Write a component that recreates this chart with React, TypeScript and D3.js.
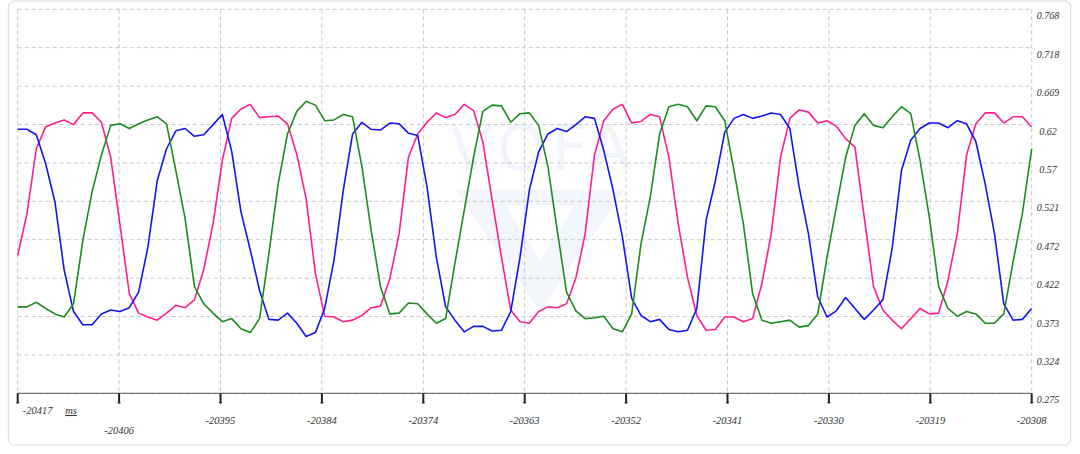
import React from 'react';
import * as d3 from 'd3';

// sampled channels, 1 ms apart, starting at t = -20417 ms
const startTime = -20417;
const endTime = -20308;

const pink = [
  0.452, 0.506, 0.589, 0.617, 0.622, 0.626, 0.620, 0.635, 0.635, 0.623,
  0.578, 0.491, 0.403, 0.378, 0.373, 0.369, 0.378, 0.388, 0.385, 0.395,
  0.434, 0.493, 0.574, 0.628, 0.640, 0.646, 0.629, 0.630, 0.631, 0.621,
  0.582, 0.525, 0.429, 0.374, 0.373, 0.367, 0.369, 0.375, 0.385, 0.387,
  0.422, 0.480, 0.578, 0.608, 0.623, 0.635, 0.629, 0.633, 0.646, 0.638,
  0.598, 0.523, 0.450, 0.382, 0.367, 0.365, 0.380, 0.386, 0.385, 0.390,
  0.423, 0.480, 0.581, 0.625, 0.640, 0.646, 0.622, 0.624, 0.633, 0.630,
  0.578, 0.493, 0.424, 0.375, 0.356, 0.357, 0.373, 0.373, 0.367, 0.371,
  0.416, 0.480, 0.578, 0.628, 0.639, 0.636, 0.622, 0.625, 0.618, 0.602,
  0.591, 0.501, 0.412, 0.382, 0.369, 0.358, 0.371, 0.384, 0.377, 0.378,
  0.420, 0.480, 0.581, 0.621, 0.635, 0.635, 0.622, 0.630, 0.630, 0.617,
];

const blue = [
  0.614, 0.614, 0.607, 0.570, 0.521, 0.433, 0.380, 0.363, 0.363, 0.377,
  0.382, 0.380, 0.385, 0.405, 0.463, 0.548, 0.589, 0.612, 0.615, 0.605,
  0.607, 0.620, 0.633, 0.586, 0.508, 0.459, 0.407, 0.370, 0.369, 0.378,
  0.365, 0.348, 0.353, 0.384, 0.446, 0.536, 0.608, 0.623, 0.614, 0.613,
  0.622, 0.621, 0.609, 0.606, 0.540, 0.450, 0.386, 0.369, 0.354, 0.361,
  0.361, 0.355, 0.356, 0.380, 0.450, 0.536, 0.585, 0.608, 0.615, 0.611,
  0.620, 0.630, 0.628, 0.587, 0.536, 0.476, 0.397, 0.375, 0.367, 0.370,
  0.357, 0.354, 0.356, 0.384, 0.497, 0.548, 0.610, 0.628, 0.633, 0.628,
  0.631, 0.635, 0.633, 0.615, 0.540, 0.480, 0.399, 0.373, 0.381, 0.398,
  0.384, 0.370, 0.382, 0.395, 0.461, 0.561, 0.600, 0.615, 0.622, 0.622,
  0.616, 0.625, 0.621, 0.598, 0.544, 0.480, 0.390, 0.369, 0.370, 0.384,
];

const green = [
  0.386, 0.386, 0.392, 0.384, 0.377, 0.373, 0.390, 0.471, 0.534, 0.581,
  0.619, 0.621, 0.615, 0.621, 0.626, 0.630, 0.621, 0.561, 0.499, 0.412,
  0.390, 0.378, 0.367, 0.371, 0.358, 0.353, 0.371, 0.454, 0.544, 0.608,
  0.637, 0.650, 0.645, 0.625, 0.626, 0.633, 0.630, 0.566, 0.484, 0.412,
  0.377, 0.378, 0.391, 0.390, 0.377, 0.365, 0.371, 0.442, 0.510, 0.578,
  0.637, 0.645, 0.644, 0.623, 0.634, 0.635, 0.619, 0.566, 0.484, 0.405,
  0.381, 0.371, 0.372, 0.374, 0.358, 0.354, 0.377, 0.467, 0.527, 0.608,
  0.643, 0.646, 0.643, 0.625, 0.644, 0.643, 0.625, 0.561, 0.493, 0.403,
  0.369, 0.365, 0.367, 0.369, 0.360, 0.362, 0.377, 0.450, 0.514, 0.578,
  0.619, 0.634, 0.619, 0.616, 0.630, 0.643, 0.634, 0.574, 0.501, 0.412,
  0.384, 0.374, 0.380, 0.377, 0.365, 0.365, 0.377, 0.444, 0.506, 0.589,
];

const yMin = 0.2751;
const yMax = 0.768;
const yTickLabels = ['0.275', '0.324', '0.373', '0.422', '0.472', '0.521', '0.57', '0.62', '0.669', '0.718', '0.768'];
const xTickLabels = ['-20417', '-20406', '-20395', '-20384', '-20374', '-20363', '-20352', '-20341', '-20330', '-20319', '-20308'];

const W = 1080;
const H = 454;
const left = 17.7;
const right = 1031.7;
const top = 9.3;
const bottom = 393.3;

const font = '"Liberation Serif", "DejaVu Serif", serif';

const App: React.FC = () => {
  const x = d3.scaleLinear().domain([startTime, endTime]).range([left, right]);
  const y = d3.scaleLinear().domain([yMin, yMax]).range([bottom, top]);

  const yTicks = yTickLabels.map((l, i) => ({ label: l, v: yMin + (i * (yMax - yMin)) / (yTickLabels.length - 1) }));
  const xTicks = xTickLabels.map((l, i) => ({
    label: l,
    t: startTime + (i * (endTime - startTime)) / (xTickLabels.length - 1),
  }));

  const line = d3
    .line<number>()
    .x((_, i) => x(startTime + i))
    .y((d) => y(d));

  const series = [
    { name: 'ch0', values: pink, color: '#ff1f8e' },
    { name: 'ch1', values: blue, color: '#1414f5' },
    { name: 'ch2', values: green, color: '#1c8c1c' },
  ];

  return (
    <svg width={W} height={H} style={{ position: 'absolute', left: 0, top: 0, background: '#fff' }}>
      <rect x={8.3} y={1} width={1062.4} height={444} rx={6} fill="#fff" stroke="#d9d9d9" />

      {/* faint watermark */}
      <g opacity={0.5}>
        <text x={543} y={170} textAnchor="middle" fontFamily="DejaVu Sans, sans-serif" fontSize={62} fill="#e4ecf8" letterSpacing={6}>
          VOFA
        </text>
        <path d="M455,190 L625,190 L540,310 Z M505,205 L575,205 L540,260 Z" fill="#e8effa" fillRule="evenodd" />
      </g>

      {/* grid */}
      {yTicks.map((t) => (
        <line key={'gy' + t.label} x1={left} x2={right} y1={y(t.v)} y2={y(t.v)} stroke="#c8c8c8" strokeDasharray="4,3" />
      ))}
      {xTicks.map((t) => (
        <line key={'gx' + t.label} x1={x(t.t)} x2={x(t.t)} y1={top} y2={bottom} stroke="#c8c8c8" strokeDasharray="4,3" />
      ))}

      {/* series */}
      {series.map((s) => (
        <path key={s.name} d={line(s.values) ?? ''} fill="none" stroke={s.color} strokeWidth={1.6} strokeLinejoin="round" />
      ))}

      {/* x axis */}
      <line x1={left} x2={right} y1={bottom} y2={bottom} stroke="#555" />
      {xTicks.map((t, i) => {
        const px = x(t.t);
        const ly = i === 0 ? 414 : i === 1 ? 434 : 424;
        return (
          <g key={'xt' + t.label}>
            <line x1={px} x2={px} y1={bottom} y2={bottom + 10} stroke="#222" strokeWidth={2} />
            <line x1={px - 1.5} x2={px + 1.5} y1={bottom + 9.5} y2={bottom + 9.5} stroke="#222" />
            <text
              x={i === 0 ? px + 5 : px}
              y={ly}
              textAnchor={i === 0 ? 'start' : 'middle'}
              fontFamily={font}
              fontStyle="italic"
              fontSize={10.5}
              fill="#333"
            >
              {t.label}
            </text>
          </g>
        );
      })}
      <text x={71} y={414} textAnchor="middle" fontFamily={font} fontStyle="italic" fontSize={10.5} fill="#333" textDecoration="underline">
        ms
      </text>

      {/* y axis labels */}
      {yTicks.map((t) => (
        <text
          key={'yl' + t.label}
          x={1048}
          y={y(t.v) + 10}
          textAnchor="middle"
          fontFamily={font}
          fontStyle="italic"
          fontSize={10}
          fill="#333"
        >
          {t.label}
        </text>
      ))}
    </svg>
  );
};

export default App;
